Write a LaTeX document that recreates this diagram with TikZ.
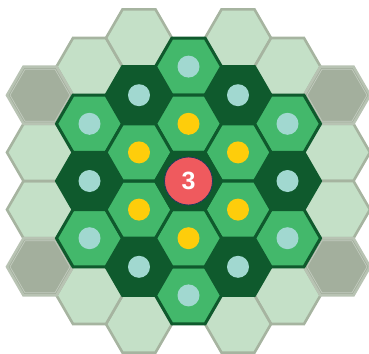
\documentclass[tikz,border=0pt]{standalone}
\usepackage{fontspec}
\setmainfont{Liberation Sans}
\usetikzlibrary{shapes.geometric}
\definecolor{dkg}{HTML}{0F5A2D}
\definecolor{mdg}{HTML}{43B86B}
\definecolor{ltg}{HTML}{C4E0C7}
\definecolor{ltstroke}{HTML}{A6B4A0}
\definecolor{grayfill}{HTML}{A3AF9D}
\definecolor{grayline}{HTML}{C3CCBF}
\definecolor{tealdot}{HTML}{A1D8D0}
\definecolor{yeldot}{HTML}{FECD0B}
\definecolor{redc}{HTML}{EF5A5E}
\definecolor{navy}{HTML}{1F3A5F}
\begin{document}
\begin{tikzpicture}[x=1pt,y=-1pt,
  hexbase/.style={regular polygon, regular polygon sides=6, minimum size=66pt, inner sep=0pt, outer sep=0pt},
  lighthex/.style={hexbase, fill=ltg, draw=ltstroke, line width=2.6pt},
  grayhex/.style={hexbase, fill=grayfill, draw=ltstroke!80!white, line width=2.6pt},
  grayinner/.style={hexbase, minimum size=60pt, draw=grayline, line width=0.7pt},
  medhex/.style={hexbase, fill=mdg, draw=dkg, line width=3pt},
  darkhex/.style={hexbase, fill=dkg, draw=dkg, line width=3pt},
  tdot/.style={circle, fill=tealdot, minimum size=22pt, inner sep=0pt},
  ydot/.style={circle, fill=yeldot, minimum size=22pt, inner sep=0pt},
  badge/.style={circle, fill=redc, draw=navy, line width=0.8pt, minimum size=48pt, inner sep=0pt, text=white, font=\bfseries\fontsize{25}{25}\selectfont}
]
\useasboundingbox (0,0) rectangle (369,353);
\def\cx{188.5}\def\cy{181}\def\dx{49.5}\def\dy{57.2}
% outer ring, light
\foreach \qq/\rr [count=\i] in {1/-3,2/-3,3/-2,3/-1,2/1,1/2,-1/3,-2/3,-3/2,-3/1,-2/-1,-1/-2}
  \node[lighthex] (L\i) at ({\cx+\dx*\qq},{\cy+\dy*(\rr+\qq/2)}) {};
% outer ring, gray corners
\foreach \qq/\rr [count=\i] in {-3/0,-3/3,3/-3,3/0}{
  \node[grayhex] (G\i) at ({\cx+\dx*\qq},{\cy+\dy*(\rr+\qq/2)}) {};
  \node[grayinner] (GI\i) at (G\i) {};
}
% ring 2 edges, dark with teal dots
\foreach \qq/\rr [count=\i] in {1/-2,2/-1,1/1,-1/2,-2/1,-1/-1}{
  \node[darkhex] (D\i) at ({\cx+\dx*\qq},{\cy+\dy*(\rr+\qq/2)}) {};
}
% ring 2 corners, medium with teal dots
\foreach \qq/\rr [count=\i] in {0/-2,2/-2,2/0,0/2,-2/2,-2/0}{
  \node[medhex] (M\i) at ({\cx+\dx*\qq},{\cy+\dy*(\rr+\qq/2)}) {};
}
% ring 1, medium with yellow dots
\foreach \qq/\rr [count=\i] in {0/-1,1/-1,1/0,0/1,-1/1,-1/0}{
  \node[medhex] (Y\i) at ({\cx+\dx*\qq},{\cy+\dy*(\rr+\qq/2)}) {};
}
% centre
\node[darkhex] (C) at (\cx,\cy) {};
% dots
\foreach \i in {1,...,6}{
  \node[tdot] (DT\i) at (D\i) {};
  \node[tdot] (MT\i) at (M\i) {};
  \node[ydot] (YT\i) at (Y\i) {};
}
\node[badge] (B) at (C) {3};
\end{tikzpicture}
\end{document}
